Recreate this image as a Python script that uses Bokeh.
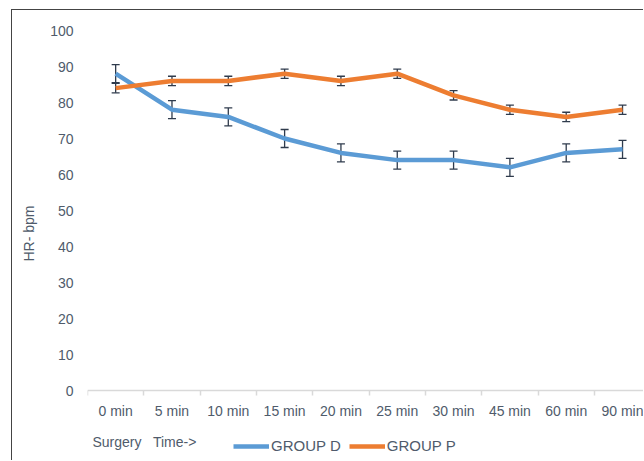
import numpy as np
from bokeh.plotting import figure
from bokeh.models import (ColumnDataSource, Range1d, FixedTicker, Whisker, TeeHead,
                          Legend, LegendItem, Label)
from bokeh.embed import file_html
from bokeh.resources import INLINE

categories = ["0 min", "5 min", "10 min", "15 min", "20 min", "25 min",
              "30 min", "45 min", "60 min", "90 min"]
group_d = [88, 78, 76, 70, 66, 64, 64, 62, 66, 67]
group_d_err = [2.5, 2.5, 2.5, 2.5, 2.5, 2.5, 2.5, 2.5, 2.5, 2.5]
group_p = [84, 86, 86, 88, 86, 88, 82, 78, 76, 78]
group_p_err = [1.3, 1.3, 1.3, 1.3, 1.3, 1.3, 1.3, 1.3, 1.3, 1.3]
y_ticks = [0, 10, 20, 30, 40, 50, 60, 70, 80, 90, 100]

FONT = "Liberation Sans"
TXT = "#4f5b6b"
BLUE = "#5b9bd5"
ORANGE = "#ed7d31"
ERR = "#2f3b4c"

n = len(categories)
xpos = np.arange(n) + 0.5

src = ColumnDataSource(dict(
    x=xpos, d=group_d, p=group_p,
    d_lo=np.array(group_d) - np.array(group_d_err),
    d_hi=np.array(group_d) + np.array(group_d_err),
    p_lo=np.array(group_p) - np.array(group_p_err),
    p_hi=np.array(group_p) + np.array(group_p_err),
))

p = figure(width=632, height=451, output_backend="svg", toolbar_location=None,
           x_range=Range1d(0, 9.89), y_range=Range1d(-18.33, 105.56),
           min_border_left=75, min_border_right=0, min_border_top=0,
           min_border_bottom=5,
           styles={"margin-left": "11px", "margin-top": "9px",
                   "border-top": "1px solid #444444",
                   "border-left": "1px solid #444444"})
p.outline_line_color = None
p.grid.visible = False
p.background_fill_color = "white"
p.border_fill_color = "white"

# x axis drawn at y = 0 inside the frame
xa = p.xaxis[0]
xa.fixed_location = 0
xa.ticker = FixedTicker(ticks=list(xpos), minor_ticks=list(range(n + 1)))
xa.major_label_overrides = {float(v): c for v, c in zip(xpos, categories)}
xa.axis_line_color = "#d9d9d9"
xa.axis_line_width = 1.5
xa.major_tick_line_color = None
xa.major_tick_out = 0
xa.major_tick_in = 0
xa.minor_tick_line_color = "#d9d9d9"
xa.minor_tick_line_width = 1.5
xa.minor_tick_out = 5
xa.minor_tick_in = 0
xa.major_label_standoff = 7
xa.major_label_text_font = FONT
xa.major_label_text_font_size = "14px"
xa.major_label_text_color = TXT

# y axis
ya = p.yaxis[0]
ya.ticker = FixedTicker(ticks=y_ticks)
ya.axis_line_color = None
ya.major_tick_line_color = None
ya.minor_tick_line_color = None
ya.major_tick_out = 0
ya.major_tick_in = 0
ya.major_label_standoff = 14
ya.major_label_text_font = FONT
ya.major_label_text_font_size = "14px"
ya.major_label_text_color = TXT
ya.axis_label = "HR- bpm"
ya.axis_label_text_font = FONT
ya.axis_label_text_font_size = "14px"
ya.axis_label_text_font_style = "normal"
ya.axis_label_text_color = TXT
ya.axis_label_standoff = 10

rd = p.line("x", "d", source=src, line_color=BLUE, line_width=4.5)
rp = p.line("x", "p", source=src, line_color=ORANGE, line_width=4.5)

for lo, hi in (("d_lo", "d_hi"), ("p_lo", "p_hi")):
    w = Whisker(source=src, base="x", lower=lo, upper=hi,
                line_color=ERR, line_width=1.3,
                upper_head=TeeHead(size=8, line_color=ERR, line_width=1.3),
                lower_head=TeeHead(size=8, line_color=ERR, line_width=1.3))
    p.add_layout(w)

legend = Legend(items=[LegendItem(label="GROUP D", renderers=[rd]),
                       LegendItem(label="GROUP P", renderers=[rp])],
                orientation="horizontal", location=(146, 2),
                padding=0, margin=0, spacing=8,
                glyph_width=36, glyph_height=16, label_height=16,
                label_standoff=2,
                label_text_font=FONT, label_text_font_size="15px",
                label_text_color=TXT,
                border_line_color=None, background_fill_alpha=0)
p.add_layout(legend, "center")

lab = Label(x=5, y=15, x_units="screen", y_units="screen",
            text="Surgery\u00a0\u00a0 Time->", text_font=FONT, text_font_size="14px",
            text_color=TXT, text_baseline="middle", text_align="left")
p.add_layout(lab)

open("out.html", "w").write(file_html(p, INLINE))
